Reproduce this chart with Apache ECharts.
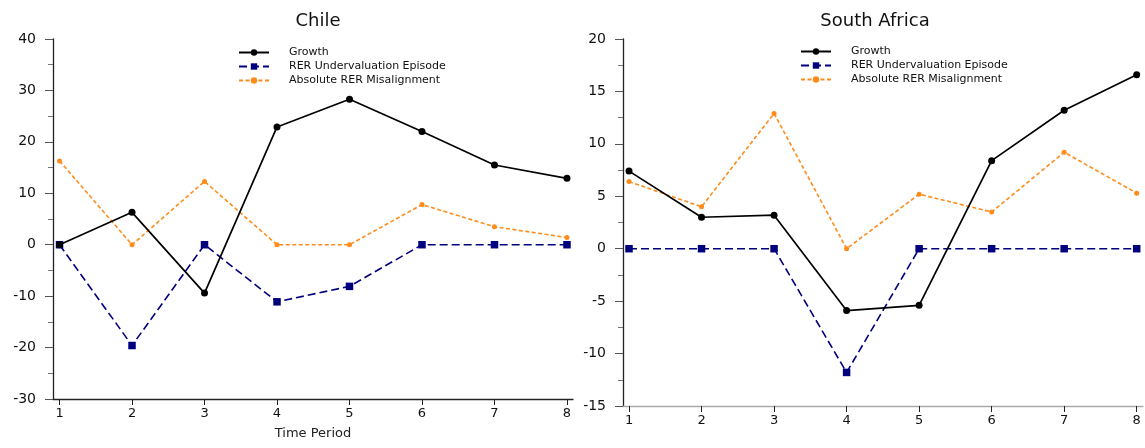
<!DOCTYPE html>
<html><head><meta charset="utf-8">
<script src="https://cdn.jsdelivr.net/npm/echarts@6/dist/echarts.min.js"></script>
<style>html,body{margin:0;padding:0;background:#fff}#c{width:1145px;height:448px}</style>
</head><body><div id="c"></div>
<script>
const periods = [1, 2, 3, 4, 5, 6, 7, 8];
const chileGrowth = [0, 6.3, -9.4, 22.9, 28.3, 22.0, 15.5, 12.9];
const chileRER = [0, -19.6, 0, -11.1, -8.1, 0, 0, 0];
const chileAbs = [16.3, 0, 12.3, 0, 0, 7.8, 3.5, 1.4];
const saGrowth = [7.4, 3.0, 3.2, -5.9, -5.4, 8.4, 13.2, 16.6];
const saRER = [0, 0, 0, -11.8, 0, 0, 0, 0];
const saAbs = [6.4, 4.0, 12.9, 0, 5.2, 3.5, 9.2, 5.3];
const seriesNames = ['Growth', 'RER Undervaluation Episode', 'Absolute RER Misalignment'];

const FONT = 'DejaVu Sans';
const pairs = v => periods.map((p, i) => [p, v[i]]);
const styles = [
  {color: '#000000', symbol: 'circle', symbolSize: 7, type: 'solid', width: 1.7},
  {color: '#00007f', symbol: 'rect', symbolSize: 7.5, type: [8, 4], width: 1.6},
  {color: '#ff8c1a', symbol: 'circle', symbolSize: 5, type: [4, 2.5], width: 1.6}
];
function mk(name, data, idx, g) {
  const s = styles[idx];
  return {
    name, type: 'line', xAxisIndex: g, yAxisIndex: g, data: pairs(data),
    symbol: s.symbol, symbolSize: s.symbolSize, showAllSymbol: true,
    itemStyle: {color: s.color},
    lineStyle: {color: s.color, width: s.width, type: s.type},
    z: 3 - idx, animation: false
  };
}
function xAx(g, name, min, max) {
  return {
    type: 'value', gridIndex: g, min, max,
    name: name, nameLocation: 'middle', nameGap: 28,
    nameTextStyle: {fontFamily: FONT, fontSize: 13, color: '#222'},
    axisLine: {show: true, onZero: false, lineStyle: {color: g === 0 ? '#222' : '#aaa', width: 1.3}},
    axisTick: {show: true, customValues: periods, length: 6, lineStyle: {color: '#222'}},
    axisLabel: {customValues: periods, fontFamily: FONT, fontSize: 13, color: '#111', margin: 8},
    splitLine: {show: false}
  };
}
function yAx(g, min, max, interval) {
  return {
    type: 'value', gridIndex: g, min, max, interval,
    axisLine: {show: true, onZero: false, lineStyle: {color: '#222', width: 1.3}},
    axisTick: {show: true, inside: false, length: 8, lineStyle: {color: '#555'}},
    minorTick: {show: true, splitNumber: 2, length: 5, lineStyle: {color: '#777'}},
    axisLabel: {fontFamily: FONT, fontSize: 14, color: '#111', margin: 17},
    splitLine: {show: false}
  };
}
const legendText = {fontFamily: FONT, fontSize: 11, color: '#111', padding: [0, 0, 0, 15]};
const chart = echarts.init(document.getElementById('c'), null, {renderer: 'canvas'});
chart.setOption({
  backgroundColor: '#fff',
  animation: false,
  title: [
    {text: 'Chile', left: 313, top: 7, textAlign: 'center', textStyle: {fontFamily: FONT, fontSize: 18, fontWeight: 'normal', color: '#111'}},
    {text: 'South Africa', left: 870, top: 7, textAlign: 'center', textStyle: {fontFamily: FONT, fontSize: 18, fontWeight: 'normal', color: '#111'}}
  ],
  legend: [
    {orient: 'vertical', left: 233, top: 42, itemWidth: 30, itemHeight: 8, itemGap: 3, data: seriesNames,
     textStyle: legendText, selectedMode: false},
    {orient: 'vertical', left: 795, top: 41, itemWidth: 30, itemHeight: 8, itemGap: 3, data: seriesNames,
     textStyle: legendText, selectedMode: false}
  ],
  grid: [
    {left: 53, top: 39, width: 520, height: 360},
    {left: 623, top: 39, width: 520, height: 367}
  ],
  xAxis: [xAx(0, 'Time Period', 0.91, 8.083), xAx(1, '', 0.917, 8.087)],
  yAxis: [yAx(0, -30, 40, 10), yAx(1, -15, 20, 5)],
  series: [
    mk(seriesNames[0], chileGrowth, 0, 0),
    mk(seriesNames[1], chileRER, 1, 0),
    mk(seriesNames[2], chileAbs, 2, 0),
    mk(seriesNames[0], saGrowth, 0, 1),
    mk(seriesNames[1], saRER, 1, 1),
    mk(seriesNames[2], saAbs, 2, 1)
  ]
});
</script></body></html>
